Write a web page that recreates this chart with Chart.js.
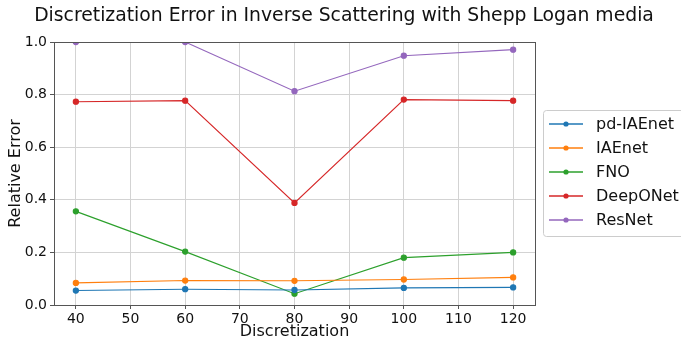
<!DOCTYPE html>
<html>
<head>
<meta charset="utf-8">
<script src="https://cdn.jsdelivr.net/npm/chart.js@4"></script>
<style>
  body { margin: 0; background: #fff; }
  #wrap { width: 681px; height: 340px; position: relative; }
</style>
</head>
<body>
<div id="wrap"><canvas id="myChart"></canvas></div>
<script>
var xValues = [40, 60, 80, 100, 120];
var xTicks = [40, 50, 60, 70, 80, 90, 100, 110, 120];
var yTicks = [0, 0.2, 0.4, 0.6, 0.8, 1.0];

var seriesNames = ["pd-IAEnet", "IAEnet", "FNO", "DeepONet", "ResNet"];
var pdIAEnet = [0.055, 0.060, 0.057, 0.065, 0.067];
var IAEnet   = [0.084, 0.093, 0.092, 0.097, 0.105];
var FNO      = [0.356, 0.203, 0.043, 0.180, 0.200];
var DeepONet = [0.773, 0.777, 0.388, 0.781, 0.777];
var ResNet   = [1.000, 1.000, 0.813, 0.948, 0.971];
var lineColors = ["#1f77b4", "#ff7f0e", "#2ca02c", "#d62728", "#9467bd"];

var titleText = "Discretization Error in Inverse Scattering with Shepp Logan media";
var fontName = "'DejaVu Sans', sans-serif";

var allSeries = [pdIAEnet, IAEnet, FNO, DeepONet, ResNet];
var datasets = allSeries.map(function (vals, i) {
  return {
    label: seriesNames[i],
    data: vals.map(function (v, j) { return {x: xValues[j], y: v}; }),
    borderColor: lineColors[i],
    backgroundColor: lineColors[i],
    borderWidth: 1.1,
    pointRadius: 2.6,
    pointHoverRadius: 2.6,
    tension: 0
  };
});

// top title, box around the plot, and a matplotlib-like legend
var extras = {
  id: "extras",
  afterDraw: function (chart) {
    var ctx = chart.ctx;
    var a = chart.chartArea;
    ctx.save();
    ctx.strokeStyle = "#555";
    ctx.lineWidth = 1;
    ctx.strokeRect(Math.round(a.left) + 0.5, Math.round(a.top) + 0.5,
                   Math.round(a.right - a.left), Math.round(a.bottom - a.top));

    ctx.fillStyle = "#111";
    ctx.font = "18.8px " + fontName;
    ctx.textAlign = "center";
    ctx.textBaseline = "middle";
    ctx.fillText(titleText, 344, 16);

    // legend
    var bx = 543.5, by = 110.5, bw = 145, bh = 126, r = 3;
    ctx.fillStyle = "rgba(255,255,255,0.8)";
    ctx.strokeStyle = "#cccccc";
    ctx.beginPath();
    ctx.moveTo(bx + r, by);
    ctx.lineTo(bx + bw - r, by);
    ctx.arcTo(bx + bw, by, bx + bw, by + r, r);
    ctx.lineTo(bx + bw, by + bh - r);
    ctx.arcTo(bx + bw, by + bh, bx + bw - r, by + bh, r);
    ctx.lineTo(bx + r, by + bh);
    ctx.arcTo(bx, by + bh, bx, by + bh - r, r);
    ctx.lineTo(bx, by + r);
    ctx.arcTo(bx, by, bx + r, by, r);
    ctx.closePath();
    ctx.fill();
    ctx.stroke();

    ctx.font = "16px " + fontName;
    ctx.textAlign = "left";
    ctx.textBaseline = "middle";
    seriesNames.forEach(function (name, i) {
      var y = 124 + i * 24;
      ctx.strokeStyle = lineColors[i];
      ctx.lineWidth = 1.5;
      ctx.beginPath();
      ctx.moveTo(549, y);
      ctx.lineTo(583, y);
      ctx.stroke();
      ctx.fillStyle = lineColors[i];
      ctx.beginPath();
      ctx.arc(566, y, 2.6, 0, Math.PI * 2);
      ctx.fill();
      ctx.fillStyle = "#111";
      ctx.fillText(name, 596, y + 1);
    });
    ctx.restore();
  }
};

new Chart("myChart", {
  type: "line",
  data: {datasets: datasets},
  plugins: [extras],
  options: {
    responsive: true,
    maintainAspectRatio: false,
    animation: false,
    layout: {padding: {top: 42, right: 146, left: 0, bottom: 0}},
    plugins: {
      legend: {display: false},
      title: {display: false},
      tooltip: {enabled: false}
    },
    scales: {
      x: {
        type: "linear",
        min: 36,
        max: 124,
        afterBuildTicks: function (scale) {
          scale.ticks = xTicks.map(function (v) { return {value: v}; });
        },
        afterFit: function (scale) { scale.height = 35; },
        grid: {color: "#d3d3d3", tickColor: "#555", tickLength: 4, lineWidth: 1},
        border: {display: false},
        ticks: {
          color: "#111",
          font: {family: fontName, size: 14},
          padding: 2,
          maxRotation: 0,
          callback: function (v) { return v; }
        },
        title: {
          display: true,
          text: "Discretization",
          color: "#111",
          font: {family: fontName, size: 16, lineHeight: 1},
          padding: {top: 0, bottom: 0}
        }
      },
      y: {
        type: "linear",
        min: 0,
        max: 1,
        afterBuildTicks: function (scale) {
          scale.ticks = yTicks.map(function (v) { return {value: v}; });
        },
        afterFit: function (scale) { scale.width = 54; },
        grid: {color: "#d3d3d3", tickColor: "#555", tickLength: 4, lineWidth: 1},
        border: {display: false},
        ticks: {
          color: "#111",
          font: {family: fontName, size: 14},
          padding: 3,
          callback: function (v) { return v.toFixed(1); }
        },
        title: {
          display: true,
          text: "Relative Error",
          color: "#111",
          font: {family: fontName, size: 16, lineHeight: 1},
          padding: {top: 8, bottom: 0}
        }
      }
    }
  }
});
</script>
</body>
</html>
